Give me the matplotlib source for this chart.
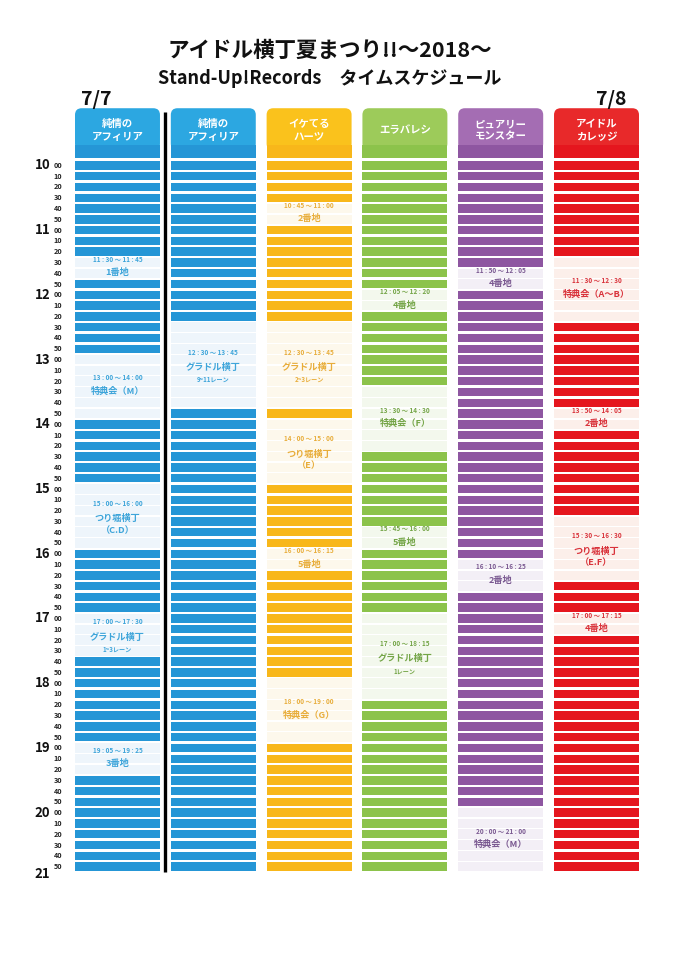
import matplotlib
matplotlib.use('Agg')
import matplotlib.pyplot as plt
from matplotlib.patches import FancyBboxPatch, Rectangle

plt.rcParams['font.family'] = ['Noto Sans CJK JP', 'DejaVu Sans']

# chart data
title = 'アイドル横丁夏まつり!!～2018～'
subtitle = 'Stand-Up!Records　タイムスケジュール'
day_labels = ['7/7', '7/8']
stages = ['純情の\nアフィリア', '純情の\nアフィリア', 'イケてる\nハーツ', 'エラバレシ',
          'ピュアリー\nモンスター', 'アイドル\nカレッジ']
hours = list(range(10, 22))
minutes = ['00', '10', '20', '30', '40', '50']

# (first slot, end slot, time text, place, note)
events_1 = [('11:30', '11:50', '11 : 30 ～ 11 : 45', '1番地', ''),
            ('13:00', '14:00', '13 : 00 ～ 14 : 00', '特典会（M）', ''),
            ('15:00', '16:00', '15 : 00 ～ 16 : 00', 'つり堀横丁', '（C.D）'),
            ('17:00', '17:40', '17 : 00 ～ 17 : 30', 'グラドル横丁', '1~3レーン'),
            ('19:00', '19:30', '19 : 05 ～ 19 : 25', '3番地', '')]
events_2 = [('12:30', '13:50', '12 : 30 ～ 13 : 45', 'グラドル横丁', '9~11レーン')]
events_3 = [('10:40', '11:00', '10 : 45 ～ 11 : 00', '2番地', ''),
            ('12:30', '13:50', '12 : 30 ～ 13 : 45', 'グラドル横丁', '2~3レーン'),
            ('14:00', '15:00', '14 : 00 ～ 15 : 00', 'つり堀横丁', '（E）'),
            ('16:00', '16:20', '16 : 00 ～ 16 : 15', '5番地', ''),
            ('18:00', '19:00', '18 : 00 ～ 19 : 00', '特典会（G）', '')]
events_4 = [('12:00', '12:20', '12 : 05 ～ 12 : 20', '4番地', ''),
            ('13:30', '14:30', '13 : 30 ～ 14 : 30', '特典会（F）', ''),
            ('15:40', '16:00', '15 : 45 ～ 16 : 00', '5番地', ''),
            ('17:00', '18:20', '17 : 00 ～ 18 : 15', 'グラドル横丁', '1レーン')]
events_5 = [('11:40', '12:00', '11 : 50 ～ 12 : 05', '4番地', ''),
            ('16:10', '16:40', '16 : 10 ～ 16 : 25', '2番地', ''),
            ('20:00', '21:00', '20 : 00 ～ 21 : 00', '特典会（M）', '')]
events_6 = [('11:30', '12:30', '11 : 30 ～ 12 : 30', '特典会（A～B）', ''),
            ('13:50', '14:10', '13 : 50 ～ 14 : 05', '2番地', ''),
            ('15:30', '16:30', '15 : 30 ～ 16 : 30', 'つり堀横丁', '（E.F）'),
            ('17:00', '17:20', '17 : 00 ～ 17 : 15', '4番地', '')]
all_events = [events_1, events_2, events_3, events_4, events_5, events_6]

# styles
row_colors = ['#2596d6', '#2596d6', '#f8b71a', '#8cc34b', '#8e56a1', '#e5161e']
head_colors = ['#2ca7e1', '#2ca7e1', '#fac21c', '#9dcb5a', '#a46db3', '#e8292a']
light_colors = ['#eef5fb', '#eef5fb', '#fdf8ec', '#f3f8ed', '#f3eff6', '#fcefea']
text_colors = ['#3ea5da', '#3ea5da', '#e8ad3a', '#74a547', '#7a5991', '#d9323a']

n_slots = (hours[-1] - hours[0]) * 6
col_w = 0.887
gap = 0.22


def slot(t):
    h, m = t.split(':')
    return (int(h) - hours[0]) * 6 + int(m) // 10


fig = plt.figure(figsize=(6.78, 9.6), dpi=100)
ax = fig.add_axes([75 / 678, 1 - 872 / 960, 564 / 678, 712 / 960])
ax.set_xlim(0, 5 + col_w)
ax.set_ylim(n_slots, 0)
ax.axis('off')

for i, evs in enumerate(all_events):
    blocked = set()
    for ev in evs:
        blocked.update(range(slot(ev[0]), slot(ev[1])))
    free = [s for s in range(n_slots) if s not in blocked]
    busy = sorted(blocked)
    ax.barh([s + gap / 2 for s in free], col_w, left=i, height=1 - gap,
            align='edge', color=row_colors[i], lw=0)
    ax.barh([s + 0.06 for s in busy], col_w, left=i, height=0.88,
            align='edge', color=light_colors[i], lw=0)

    # event texts
    for start, end, ttxt, place, note in evs:
        c = (slot(start) + slot(end)) / 2
        xc = i + col_w / 2
        if note:
            ys = [c - 1.2, c + 0.25, c + 1.35]
        else:
            ys = [c - 0.8, c + 0.45]
        ax.text(xc, ys[0], ttxt, ha='center', va='center', fontsize=4.6,
                color=text_colors[i], fontweight='bold')
        ax.text(xc, ys[1], place, ha='center', va='center', fontsize=6.6,
                color=text_colors[i], fontweight='bold')
        if note:
            fs = 6.6 if note.startswith('（') else 4.4
            ax.text(xc, ys[2], note, ha='center', va='center', fontsize=fs,
                    color=text_colors[i], fontweight='bold')

    # header
    head = FancyBboxPatch((i, -4.8), col_w, 3.9,
                          boxstyle='round,pad=0,rounding_size=0.07',
                          mutation_aspect=95.8 / 10.79,
                          fc=head_colors[i], ec='none', clip_on=False)
    ax.add_patch(head)
    ax.add_patch(Rectangle((i, -1.4), col_w, 1.2, fc=row_colors[i], ec='none',
                           clip_on=False))
    ax.text(i + col_w / 2, -2.75, stages[i], ha='center', va='center',
            fontsize=7.5, color='white', fontweight='bold', linespacing=1.3)

# divider between days
ax.plot([0.94, 0.94], [-4.45, n_slots], color='black', lw=2.4,
        solid_capstyle='butt', clip_on=False)

# time axis
for s in range(n_slots):
    ax.text(-0.177, s + 0.5, minutes[s % 6], ha='center', va='center',
            fontsize=5.2, fontweight='bold', color='#222222')
for h in hours[:-1]:
    ax.text(-0.255, (h - hours[0]) * 6 + 0.5, str(h), ha='right', va='center',
            fontsize=9.5, fontweight='bold', color='#111111')
ax.text(-0.255, n_slots + 0.15, str(hours[-1]), ha='right', va='center',
        fontsize=9.5, fontweight='bold', color='#111111')

# day labels and titles
ax.text(0.22, -5.6, day_labels[0], ha='center', va='center', fontsize=14,
        fontweight='bold', color='#111111')
ax.text(5.6, -5.6, day_labels[1], ha='center', va='center', fontsize=14,
        fontweight='bold', color='#111111')
fig.text(330 / 678, 1 - 50 / 960, title, ha='center', va='center',
         fontsize=15.5, fontweight='bold', color='#111111')
fig.text(330 / 678, 1 - 78 / 960, subtitle, ha='center', va='center',
         fontsize=13, fontweight='bold', color='#111111')

fig.savefig('out.png', dpi=100, facecolor='white')
